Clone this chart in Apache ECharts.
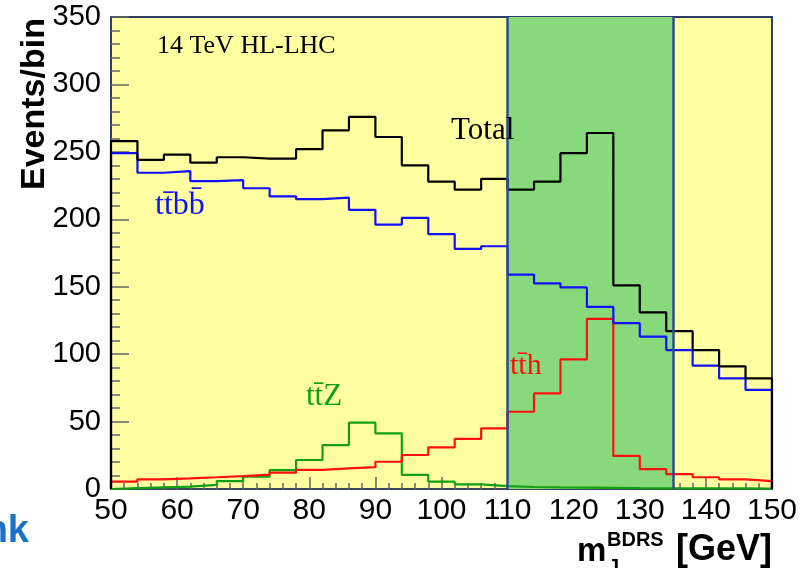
<!DOCTYPE html>
<html>
<head>
<meta charset="utf-8">
<title>m_J^BDRS distribution, 14 TeV HL-LHC</title>
<script src="https://cdn.jsdelivr.net/npm/echarts@6/dist/echarts.min.js"></script>
<style>
  html, body { margin: 0; padding: 0; background: #ffffff; }
  #chart { width: 800px; height: 568px; }
</style>
</head>
<body>
<div id="chart"></div>
<script>
// Lower edges of the 4 GeV bins (GeV)
const binLow = [50, 54, 58, 62, 66, 70, 74, 78, 82, 86, 90, 94, 98, 102, 106,
                110, 114, 118, 122, 126, 130, 134, 138, 142, 146];
const binHigh = 150;

// Events per bin
const total = [258, 244, 248, 242, 246, 245, 245, 252, 266, 276, 261, 240, 228, 222, 230,
               222, 228, 249, 264, 151, 131, 117, 103, 91, 82];
const ttbb  = [249, 234.5, 235.7, 228.3, 229, 223, 217, 215, 216, 207, 196, 201, 189, 178, 180,
               159, 152.5, 149.5, 135, 123, 113, 103, 91.5, 82, 73.5];
const tth   = [5.4, 7.2, 7.9, 8.7, 9.6, 10.6, 12.1, 14.2, 15.3, 16.2, 20.2, 25.2, 30.9, 37.1, 45,
               57.3, 70.9, 96.1, 126.2, 24.5, 14.8, 11.1, 8.7, 7.2, 5.9];
const ttZ   = [0.7, 1.2, 1.7, 3, 5.9, 9.1, 14, 21.5, 32.6, 49.2, 41.3, 10.4, 5.4, 3.5, 2.2,
               1.5, 1.2, 1, 0.8, 0.6, 0.5, 0.5, 0.4, 0.4, 0.3];

// Mass window highlighted in green
const signalWindow = [110, 135];

// Axis tick settings
const xTicks = { min: 50, max: 150, step: 10 };
const yTicks = { min: 0, max: 350, step: 50 };

// Histogram outline: rise from zero at the first edge, flat tops, drop at the last edge
function outline(values) {
  const pts = [[binLow[0], 0]];
  binLow.forEach((x, i) => pts.push([x, values[i]]));
  pts.push([binHigh, values[values.length - 1]]);
  pts.push([binHigh, 0]);
  return pts;
}

function hist(name, values, color) {
  return {
    name: name,
    type: 'line',
    step: 'end',
    data: outline(values),
    showSymbol: false,
    symbol: 'none',
    silent: true,
    z: 4,
    lineStyle: { color: color, width: 2.2 },
    emphasis: { disabled: true }
  };
}

const chart = echarts.init(document.getElementById('chart'), null, { renderer: 'canvas' });

const serif = 'Liberation Serif, DejaVu Serif, serif';
const sans = 'Liberation Sans, Arial, Helvetica, sans-serif';

// Text drawn over the plot
function label(opts) {
  return Object.assign({ type: 'text', z: 100, zlevel: 0 }, opts);
}

chart.setOption({
  animation: false,
  backgroundColor: '#ffffff',
  grid: {
    left: 111, right: 28, top: 17, bottom: 79,
    show: true,
    backgroundColor: '#ffffa2',
    borderColor: '#2c3e66',
    borderWidth: 2
  },
  xAxis: {
    type: 'value',
    min: xTicks.min, max: xTicks.max, interval: xTicks.step,
    axisLine: { show: true, lineStyle: { color: '#3a4560', width: 2 } },
    axisTick: { show: true, inside: true, length: 12, lineStyle: { color: '#666666', width: 1.5 } },
    minorTick: { show: true, splitNumber: 5, length: 6, lineStyle: { color: '#666666', width: 1.5 } },
    splitLine: { show: false },
    minorSplitLine: { show: false },
    axisLabel: { color: '#000000', fontSize: 30, fontFamily: sans, margin: 7 }
  },
  yAxis: {
    type: 'value',
    min: yTicks.min, max: yTicks.max, interval: yTicks.step,
    axisLine: { show: true, lineStyle: { color: '#2c3e66', width: 2 } },
    axisTick: { show: true, inside: true, length: 18, lineStyle: { color: '#666666', width: 1.5 } },
    minorTick: { show: true, splitNumber: 5, length: 9, lineStyle: { color: '#666666', width: 1.5 } },
    splitLine: { show: false },
    minorSplitLine: { show: false },
    axisLabel: { color: '#000000', fontSize: 29, fontFamily: sans, margin: 10 }
  },
  series: [
    {
      name: 'window',
      type: 'line',
      data: [],
      silent: true,
      z: 1,
      markArea: {
        silent: true,
        itemStyle: { color: '#88d87c', borderWidth: 0 },
        data: [[{ xAxis: signalWindow[0] }, { xAxis: signalWindow[1] }]]
      },
      markLine: {
        silent: true,
        symbol: ['none', 'none'],
        label: { show: false },
        lineStyle: { color: '#2e4c8c', width: 2.5, type: 'solid' },
        data: [{ xAxis: signalWindow[0] }, { xAxis: signalWindow[1] }]
      }
    },
    hist('ttZ', ttZ, '#12a012'),
    hist('tth', tth, '#ff1010'),
    hist('ttbb', ttbb, '#1010ff'),
    hist('Total', total, '#000000')
  ],
  graphic: [
    label({ left: 157, top: 33, style: { text: '14 TeV HL-LHC', font: '26px ' + serif, fill: '#000000' } }),
    label({ left: 451, top: 115, style: { text: 'Total', font: '31px ' + serif, fill: '#000000' } }),
    label({ left: 155, top: 190, style: { text: 'tt\u0304bb\u0304', font: '32px ' + serif, fill: '#1010ff' } }),
    label({ left: 306, top: 381, style: { text: 'tt\u0304Z', font: '31px ' + serif, fill: '#12a012' } }),
    label({ left: 510, top: 351, style: { text: 'tt\u0304h', font: '30px ' + serif, fill: '#ff1010' } }),
    label({
      x: 35, y: 104, rotation: Math.PI / 2,
      style: { text: 'Events/bin', font: 'bold 34px ' + sans, fill: '#000000', align: 'center', verticalAlign: 'middle' }
    }),
    label({ x: 577, y: 552, style: { text: 'm', font: 'bold 33px ' + sans, fill: '#000000', verticalAlign: 'middle' } }),
    label({ x: 607, y: 540, style: { text: 'BDRS', font: 'bold 20px ' + sans, fill: '#000000', verticalAlign: 'middle' } }),
    label({ x: 608, y: 567, style: { text: 'J', font: 'bold 20px ' + sans, fill: '#000000', verticalAlign: 'middle' } }),
    label({ x: 676, y: 550, style: { text: '[GeV]', font: 'bold 36px ' + sans, fill: '#000000', verticalAlign: 'middle' } }),
    label({ x: 29, y: 532, style: { text: 'nk', font: 'bold 38px ' + sans, fill: '#1b73c6', align: 'right', verticalAlign: 'middle' } })
  ]
});
</script>
</body>
</html>
